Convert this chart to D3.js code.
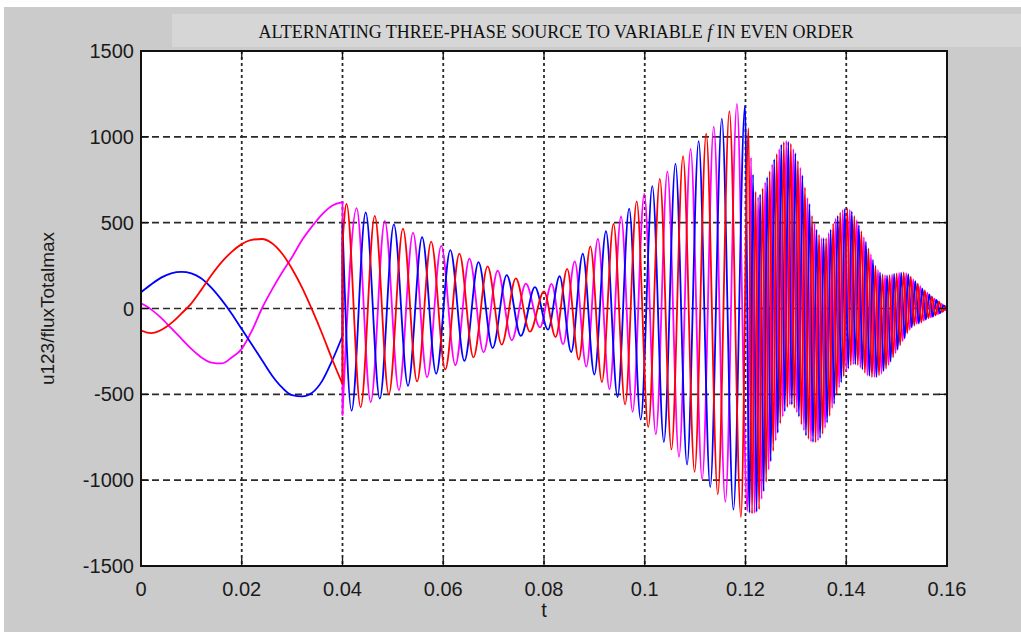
<!DOCTYPE html>
<html><head><meta charset="utf-8">
<script src="https://cdn.jsdelivr.net/npm/d3@7"></script>
<style>html,body{margin:0;padding:0;background:#fff;overflow:hidden}</style>
</head><body>
<svg id="c" width="1021" height="632"></svg>
<script>
// ---------- data ----------
const titleText = ["ALTERNATING THREE-PHASE SOURCE TO VARIABLE ", "f", " IN EVEN ORDER"];
const xLabel = "t";
const yLabel = "u123/fluxTotalmax";
const xTicks = [0, 0.02, 0.04, 0.06, 0.08, 0.1, 0.12, 0.14, 0.16];
const xTickLabels = ["0", "0.02", "0.04", "0.06", "0.08", "0.1", "0.12", "0.14", "0.16"];
const yTicks = [-1500, -1000, -500, 0, 500, 1000, 1500];
const yTickLabels = ["-1500", "-1000", "-500", "0", "500", "1000", "1500"];

// slow part (0 - 0.04 s), sampled every 0.002 s
const tSlow = [0,0.002,0.004,0.006,0.008,0.010,0.012,0.014,0.016,0.018,0.020,0.022,0.024,0.026,0.028,0.030,0.032,0.034,0.036,0.038,0.040];
const blueSlow = [95,140,180,205,213,205,175,120,50,-30,-120,-210,-300,-390,-460,-505,-512,-490,-420,-300,-160];
const redSlow  = [-128,-143,-125,-85,-30,30,110,195,270,330,375,400,405,380,320,230,120,-10,-150,-300,-440];
const magSlow  = [30,-5,-55,-115,-175,-235,-285,-315,-320,-285,-235,-130,0,110,210,300,400,480,550,600,620];

// 0.04 - 0.12 s: successive extrema [t, value]
const redMid = [[0.0400,380],[0.0408,610],[0.0436,-575],[0.0464,540],[0.0492,-500],[0.0520,465],[0.0548,-425],[0.0576,390],[0.0604,-355],[0.0632,320],[0.0660,-285],[0.0688,245],[0.0716,-210],[0.0744,175],[0.0772,-135],[0.0800,100],
 [0.0823,-166],[0.0846,231],[0.0869,-297],[0.0892,362],[0.0915,-428],[0.0938,493],[0.0961,-559],[0.0984,624],[0.1007,-690],[0.1030,755],[0.1053,-821],[0.1076,887],[0.1099,-952],[0.1122,1018],[0.1145,-1083],[0.1168,1149],[0.1191,-1214]];
const magMid = [[0.0400,-620],[0.0428,585],[0.0456,-545],[0.0484,510],[0.0512,-475],[0.0540,440],[0.0568,-400],[0.0596,365],[0.0624,-330],[0.0652,290],[0.0680,-255],[0.0708,220],[0.0736,-185],[0.0764,145],[0.0792,-110],
 [0.0815,143],[0.0838,-208],[0.0861,274],[0.0884,-339],[0.0907,405],[0.0930,-470],[0.0953,536],[0.0976,-602],[0.0999,667],[0.1022,-733],[0.1045,798],[0.1068,-864],[0.1091,929],[0.1114,-995],[0.1137,1060],[0.1160,-1126],[0.1183,1192]];
const blueMid = [[0.0400,495],[0.0418,-595],[0.0446,560],[0.0474,-525],[0.0502,490],[0.0530,-450],[0.0558,415],[0.0586,-380],[0.0614,340],[0.0642,-305],[0.0670,270],[0.0698,-230],[0.0726,195],[0.0754,-160],[0.0782,125],
 [0.0808,-123],[0.0831,188],[0.0854,-254],[0.0877,319],[0.0900,-385],[0.0923,450],[0.0946,-516],[0.0969,582],[0.0992,-647],[0.1015,713],[0.1038,-778],[0.1061,844],[0.1084,-909],[0.1107,975],[0.1130,-1040],[0.1153,1106],[0.1176,-1172],[0.1199,1180]];

// 0.12 - 0.16 s: successive extrema [t, value]
const redEnd = [[0.1206,1050],[0.1213,-1195],[0.1220,680],[0.1227,-1170],[0.1234,700],[0.1241,-1010],[0.1248,800],[0.1255,-830],[0.1262,900],[0.1269,-670],[0.1276,970],[0.1283,-575],[0.1290,960],[0.1297,-580],[0.1304,860],[0.1311,-675],[0.1318,705],[0.1325,-760],[0.1332,540],[0.1339,-780],[0.1346,430],[0.1353,-730],[0.1360,410],[0.1367,-625],[0.1374,495],[0.1381,-500],[0.1388,560],[0.1395,-395],[0.1402,583],[0.1409,-330],[0.1416,540],[0.1423,-330],[0.1430,450],[0.1437,-375],[0.1444,350],[0.1451,-400],[0.1458,250],[0.1465,-390],[0.1472,198],[0.1479,-350],[0.1486,195],[0.1493,-285],[0.1500,205],[0.1507,-215],[0.1514,210],[0.1521,-145],[0.1528,185],[0.1535,-100],[0.1542,145],[0.1549,-82],[0.1556,105],[0.1563,-57],[0.1570,70],[0.1577,-40],[0.1584,40],[0.1591,-20],[0.1598,12],[0.1600,5]];
const magEnd = [[0.1204,-1180],[0.1211,880],[0.1218,-1192],[0.1225,650],[0.1232,-1110],[0.1239,735],[0.1246,-940],[0.1253,840],[0.1260,-770],[0.1267,930],[0.1274,-630],[0.1281,978],[0.1288,-560],[0.1295,930],[0.1302,-605],[0.1309,820],[0.1316,-710],[0.1323,645],[0.1330,-775],[0.1337,495],[0.1344,-770],[0.1351,410],[0.1358,-695],[0.1365,440],[0.1372,-580],[0.1379,525],[0.1386,-460],[0.1393,575],[0.1400,-365],[0.1407,575],[0.1414,-325],[0.1421,515],[0.1428,-345],[0.1435,415],[0.1442,-390],[0.1449,315],[0.1456,-400],[0.1463,225],[0.1470,-380],[0.1477,194],[0.1484,-330],[0.1491,199],[0.1498,-260],[0.1505,208],[0.1512,-190],[0.1519,206],[0.1526,-125],[0.1533,170],[0.1540,-90],[0.1547,130],[0.1554,-72],[0.1561,92],[0.1568,-52],[0.1575,58],[0.1582,-32],[0.1589,27],[0.1596,-10],[0.1600,-3]];
const blueEnd = [[0.1208,-1190],[0.1215,780],[0.1222,-1185],[0.1229,665],[0.1236,-1065],[0.1243,765],[0.1250,-890],[0.1257,870],[0.1264,-725],[0.1271,955],[0.1278,-600],[0.1285,972],[0.1292,-560],[0.1299,905],[0.1306,-630],[0.1313,775],[0.1320,-740],[0.1327,610],[0.1334,-778],[0.1341,460],[0.1348,-755],[0.1355,410],[0.1362,-665],[0.1369,460],[0.1376,-555],[0.1383,540],[0.1390,-430],[0.1397,580],[0.1404,-350],[0.1411,565],[0.1418,-325],[0.1425,485],[0.1432,-355],[0.1439,390],[0.1446,-393],[0.1453,285],[0.1460,-400],[0.1467,210],[0.1474,-365],[0.1481,193],[0.1488,-310],[0.1495,202],[0.1502,-240],[0.1509,209],[0.1516,-175],[0.1523,200],[0.1530,-110],[0.1537,160],[0.1544,-87],[0.1551,115],[0.1558,-65],[0.1565,82],[0.1572,-48],[0.1579,50],[0.1586,-28],[0.1593,18],[0.1600,0]];

const series = [
  {name: "u3", color: "#ff00ff", slow: magSlow, mid: magMid, end: magEnd},
  {name: "u1", color: "#0000ff", slow: blueSlow, mid: blueMid, end: blueEnd},
  {name: "u2", color: "#ff0000", slow: redSlow, mid: redMid, end: redEnd}
];

// ---------- drawing ----------
const W = 1021, H = 632;
const svg = d3.select("#c");
const figGray = "#cbcbcb";

svg.append("rect").attr("x", 4).attr("y", 7).attr("width", W).attr("height", H).attr("fill", figGray);
svg.append("rect").attr("x", 172).attr("y", 14).attr("width", W - 172).attr("height", 33).attr("fill", "#d6d6d6");

const title = svg.append("text").attr("x", 556).attr("y", 38).attr("text-anchor", "middle")
  .attr("font-family", "'Liberation Serif', 'DejaVu Serif', serif").attr("font-size", 18).attr("fill", "#111")
  .attr("textLength", 595).attr("lengthAdjust", "spacingAndGlyphs");
title.append("tspan").text(titleText[0]);
title.append("tspan").attr("font-style", "italic").text(titleText[1]);
title.append("tspan").text(titleText[2]);

const m = {l: 141, r: 947, t: 51, b: 566};
const x = d3.scaleLinear().domain([0, 0.16]).range([m.l, m.r]);
const y = d3.scaleLinear().domain([-1500, 1500]).range([m.b, m.t]);

svg.append("rect").attr("x", m.l).attr("y", m.t).attr("width", m.r - m.l).attr("height", m.b - m.t).attr("fill", "#fff");

// grid
const grid = svg.append("g").attr("stroke", "#2a2a2a").attr("fill", "none");
xTicks.slice(1, -1).forEach(v => {
  grid.append("line").attr("x1", x(v)).attr("x2", x(v)).attr("y1", m.t).attr("y2", m.b)
    .attr("stroke-width", 1.8).attr("stroke-dasharray", "3,3");
});
yTicks.slice(1, -1).forEach(v => {
  grid.append("line").attr("x1", m.l).attr("x2", m.r).attr("y1", y(v)).attr("y2", y(v))
    .attr("stroke-width", 1.6).attr("stroke-dasharray", "7,4");
});

// series
svg.append("clipPath").attr("id", "clip").append("rect")
  .attr("x", m.l).attr("y", m.t).attr("width", m.r - m.l).attr("height", m.b - m.t);
const line = d3.line().x(d => x(d[0])).y(d => y(d[1])).curve(d3.curveMonotoneX);
const gS = svg.append("g").attr("clip-path", "url(#clip)");
series.forEach(s => {
  const slowPts = tSlow.map((t, i) => [t, s.slow[i]]);
  const d = line(slowPts) + line(s.mid.concat(s.end)).replace(/^M/, "L");
  gS.append("path").attr("d", d).attr("fill", "none").attr("stroke", s.color)
    .attr("stroke-width", 1.8).attr("stroke-linejoin", "round");
});

// axes box and inside ticks
const ax = svg.append("g").attr("stroke", "#111").attr("stroke-width", 1.3);
const tl = 8;
xTicks.forEach(v => {
  ax.append("line").attr("x1", x(v)).attr("x2", x(v)).attr("y1", m.b).attr("y2", m.b - tl);
  ax.append("line").attr("x1", x(v)).attr("x2", x(v)).attr("y1", m.t).attr("y2", m.t + tl);
});
yTicks.forEach(v => {
  ax.append("line").attr("x1", m.l).attr("x2", m.l + tl).attr("y1", y(v)).attr("y2", y(v));
  ax.append("line").attr("x1", m.r).attr("x2", m.r - tl).attr("y1", y(v)).attr("y2", y(v));
});
svg.append("rect").attr("x", m.l).attr("y", m.t).attr("width", m.r - m.l).attr("height", m.b - m.t)
  .attr("fill", "none").attr("stroke", "#111").attr("stroke-width", 2);

// tick labels
const font = "'Liberation Sans', Arial, sans-serif";
svg.append("g").selectAll("text").data(xTicks).join("text")
  .attr("x", d => x(d)).attr("y", 596).attr("text-anchor", "middle")
  .attr("font-family", font).attr("font-size", 20).attr("fill", "#1a1a1a")
  .text((d, i) => xTickLabels[i]);
svg.append("g").selectAll("text").data(yTicks).join("text")
  .attr("x", 134).attr("y", d => y(d) + 7).attr("text-anchor", "end")
  .attr("font-family", font).attr("font-size", 20).attr("fill", "#1a1a1a")
  .text((d, i) => yTickLabels[i]);

svg.append("text").attr("x", (m.l + m.r) / 2).attr("y", 617).attr("text-anchor", "middle")
  .attr("font-family", font).attr("font-size", 20).attr("fill", "#1a1a1a").text(xLabel);
svg.append("text").attr("transform", `translate(54,${(m.t + m.b) / 2}) rotate(-90)`)
  .attr("text-anchor", "middle").attr("font-family", font).attr("font-size", 19).attr("fill", "#1a1a1a")
  .text(yLabel);
</script>
</body></html>
